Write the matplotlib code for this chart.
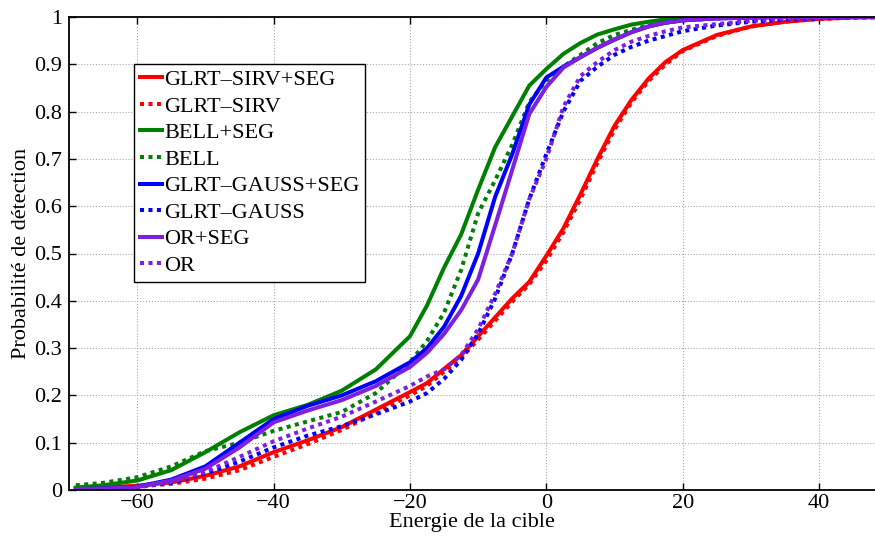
import numpy as np
import matplotlib
matplotlib.use("Agg")
import matplotlib.pyplot as plt

# energie de la cible (dB)
energie = [-69, -65, -60, -55, -50, -45, -40, -35, -30, -25, -20, -17.5, -15, -12.5,
           -10, -7.5, -5, -2.5, 0, 2.5, 5, 7.5, 10, 12.5, 15, 17.5, 20, 25, 30, 35, 40, 45, 50]

pd_sirv_seg = [0.003, 0.005, 0.009, 0.016, 0.030, 0.050, 0.080, 0.105, 0.133, 0.170, 0.207, 0.226,
               0.256, 0.285, 0.325, 0.365, 0.405, 0.440, 0.495, 0.553, 0.625, 0.700, 0.770, 0.825,
               0.870, 0.905, 0.930, 0.962, 0.980, 0.990, 0.996, 0.999, 1.0]
pd_sirv = [0.002, 0.004, 0.008, 0.013, 0.024, 0.042, 0.070, 0.097, 0.127, 0.163, 0.200, 0.220,
           0.250, 0.280, 0.318, 0.358, 0.398, 0.435, 0.485, 0.545, 0.615, 0.692, 0.762, 0.820,
           0.865, 0.900, 0.928, 0.960, 0.980, 0.990, 0.996, 0.999, 1.0]
pd_bell_seg = [0.005, 0.010, 0.020, 0.042, 0.080, 0.122, 0.158, 0.180, 0.210, 0.255, 0.325, 0.390,
               0.470, 0.540, 0.635, 0.725, 0.790, 0.855, 0.890, 0.922, 0.945, 0.963, 0.974, 0.984,
               0.990, 0.995, 0.997, 0.999, 1.0, 1.0, 1.0, 1.0, 1.0]
pd_bell = [0.010, 0.015, 0.027, 0.050, 0.082, 0.100, 0.125, 0.145, 0.165, 0.205, 0.270, 0.315,
           0.375, 0.465, 0.585, 0.655, 0.730, 0.820, 0.865, 0.895, 0.920, 0.945, 0.962, 0.973,
           0.982, 0.988, 0.993, 0.997, 0.999, 1.0, 1.0, 1.0, 1.0]
pd_gauss_seg = [0.002, 0.003, 0.007, 0.022, 0.050, 0.100, 0.150, 0.178, 0.200, 0.230, 0.270, 0.300,
                0.345, 0.410, 0.500, 0.620, 0.710, 0.815, 0.872, 0.895, 0.915, 0.935, 0.952, 0.968,
                0.980, 0.988, 0.993, 0.997, 0.999, 1.0, 1.0, 1.0, 1.0]
pd_gauss = [0.001, 0.002, 0.006, 0.015, 0.035, 0.060, 0.090, 0.115, 0.135, 0.160, 0.187, 0.205,
            0.235, 0.275, 0.330, 0.405, 0.500, 0.615, 0.710, 0.800, 0.865, 0.895, 0.920, 0.937,
            0.950, 0.960, 0.970, 0.982, 0.990, 0.994, 0.997, 0.999, 1.0]
pd_or_seg = [0.002, 0.003, 0.006, 0.020, 0.045, 0.090, 0.143, 0.168, 0.190, 0.220, 0.260, 0.290,
             0.330, 0.380, 0.445, 0.560, 0.677, 0.795, 0.852, 0.893, 0.915, 0.935, 0.953, 0.968,
             0.980, 0.988, 0.993, 0.997, 0.999, 1.0, 1.0, 1.0, 1.0]
pd_or = [0.001, 0.002, 0.006, 0.017, 0.038, 0.070, 0.103, 0.130, 0.155, 0.187, 0.220, 0.240,
         0.255, 0.285, 0.340, 0.415, 0.500, 0.615, 0.700, 0.810, 0.875, 0.905, 0.930, 0.948,
         0.960, 0.970, 0.978, 0.985, 0.992, 0.996, 0.998, 0.999, 1.0]

labels = ["GLRT–SIRV+SEG", "GLRT–SIRV", "BELL+SEG", "BELL",
          "GLRT–GAUSS+SEG", "GLRT–GAUSS", "OR+SEG", "OR"]
series = [pd_sirv_seg, pd_sirv, pd_bell_seg, pd_bell, pd_gauss_seg, pd_gauss, pd_or_seg, pd_or]
colors = ["#ff0000", "#ff0000", "#008000", "#008000", "#0000ff", "#0000ff", "#7f1fe0", "#7f1fe0"]

plt.rcParams['font.family'] = ['Liberation Serif', 'DejaVu Serif']
plt.rcParams['font.size'] = 16

fig = plt.figure(figsize=(8.75, 5.36), dpi=100)
ax = fig.add_axes([69/875, 1 - 490/536, 1 - 69/875, 473/536])

for i in range(len(series)):
    if i % 2 == 0:
        ax.plot(energie, series[i], color=colors[i], lw=2.9, label=labels[i])
    else:
        ax.plot(energie, series[i], color=colors[i], lw=2.9, ls=(0, (1, 1.1)), label=labels[i])

ax.set_xlim(-70, 48.2)
ax.set_ylim(0, 1)
ax.set_xticks([-60, -40, -20, 0, 20, 40])
ax.set_yticks(np.arange(0, 1.01, 0.1))
ax.set_yticklabels(["0", "0.1", "0.2", "0.3", "0.4", "0.5", "0.6", "0.7", "0.8", "0.9", "1"])
ax.grid(True, ls=':', color='#a8a8a8', lw=0.8)
ax.tick_params(axis='x', direction='in', length=5, top=True, width=1, pad=3)
ax.tick_params(axis='y', direction='in', length=5, right=False, width=1, pad=5)
ax.spines['right'].set_visible(False)
for s in ['left', 'top', 'bottom']:
    ax.spines[s].set_linewidth(1.3)

ax.set_xlabel("Energie de la cible", labelpad=0)
ax.set_ylabel("Probabilité de détection", labelpad=2)

leg = ax.legend(loc='upper left', bbox_to_anchor=((134 - 69) / 806, (490 - 64) / 473),
                frameon=True, fancybox=False, edgecolor='black', framealpha=1,
                handlelength=1.0, handletextpad=0.1, labelspacing=0.27, borderpad=0.25,
                borderaxespad=0)
leg.get_frame().set_linewidth(1.0)

fig.savefig("out.png", dpi=100)
